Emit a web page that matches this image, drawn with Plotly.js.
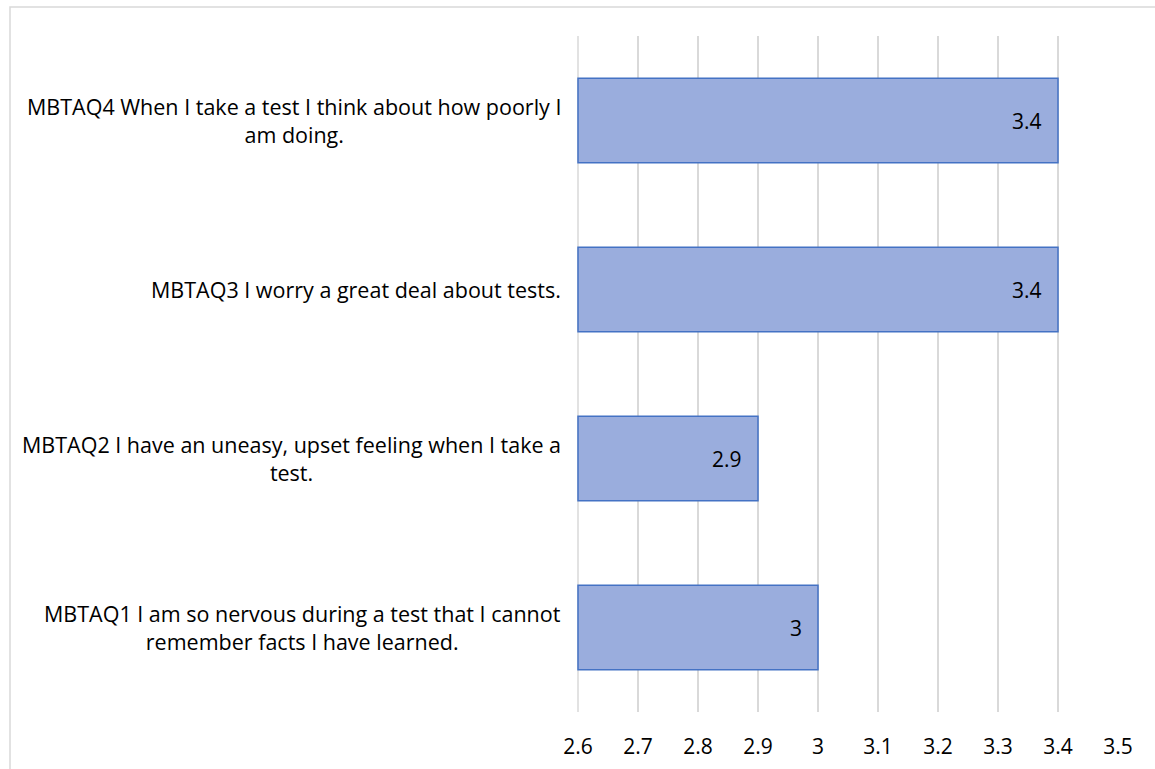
<!DOCTYPE html>
<html>
<head>
<meta charset="utf-8">
<script src="https://cdn.plot.ly/plotly-3.0.1.min.js"></script>
<style>
html,body{margin:0;padding:0;background:#fff;}
#chart{width:1155px;height:769px;}
</style>
</head>
<body>
<div id="chart"></div>
<script>
const categories = [
  "MBTAQ1 I am so nervous during a test that I cannot<br>remember facts I have learned.",
  "MBTAQ2 I have an uneasy, upset feeling when I take a<br>test.",
  "MBTAQ3 I worry a great deal about tests.",
  "MBTAQ4 When I take a test I think about how poorly I<br>am doing."
];
const values = [3, 2.9, 3.4, 3.4];
const valueLabels = ["3", "2.9", "3.4", "3.4"];
const axisMin = 2.6;
const axisMax = 3.5;
const xTickVals = [2.6, 2.7, 2.8, 2.9, 3.0, 3.1, 3.2, 3.3, 3.4, 3.5];
const xTickText = ["2.6", "2.7", "2.8", "2.9", "3", "3.1", "3.2", "3.3", "3.4", "3.5"];

const W = 1155, H = 769;
const L = 577, R = 1155 - 1119, T = 36, B = 769 - 712;
const pw = W - L - R, ph = H - T - B;
const px2x = p => (p - L) / pw;
const py2y = p => (H - B - p) / ph;

const FONT = "Open Sans, sans-serif";
const FS = 21;

const annotations = [];
categories.forEach((c, i) => {
  annotations.push({
    xref: "paper", yref: "y", x: px2x(563), y: c,
    text: c, showarrow: false, xanchor: "right", yanchor: "middle", align: "center",
    font: {family: FONT, size: 21.5, color: "#000"}
  });
  annotations.push({
    xref: "x", yref: "y", x: values[i], y: c,
    text: valueLabels[i], showarrow: false, xanchor: "right", yanchor: "middle",
    xshift: -14,
    font: {family: FONT, size: FS, color: "#000"}
  });
});

const trace = {
  type: "bar", orientation: "h",
  y: categories, x: values.map(v => v - axisMin),
  base: axisMin,
  marker: {color: "#9aaddd", line: {color: "#4472c4", width: 1.5}},
  hoverinfo: "none"
};

const pad = (axisMax - axisMin) / 540;
const layout = {
  width: W, height: H,
  margin: {l: L, r: R, t: T, b: B, pad: 0},
  paper_bgcolor: "#fff", plot_bgcolor: "#fff",
  showlegend: false,
  bargap: 0.5,
  xaxis: {
    range: [axisMin - pad, axisMax + pad], tickvals: xTickVals, ticktext: xTickText,
    showgrid: true, gridcolor: "#d9d9d9", gridwidth: 1.5,
    zeroline: false, showline: false, ticks: "",
    ticklabelstandoff: 20,
    tickfont: {family: FONT, size: FS, color: "#000"}
  },
  yaxis: {
    type: "category", categoryorder: "array", categoryarray: categories,
    showticklabels: false, showgrid: false, zeroline: false, showline: false, ticks: ""
  },
  annotations: annotations,
  shapes: [
    {
      type: "rect", xref: "paper", yref: "paper",
      x0: px2x(10), x1: px2x(1175), y0: py2y(800), y1: py2y(7),
      line: {color: "#d9d9d9", width: 1.5}, fillcolor: "rgba(0,0,0,0)", layer: "below"
    },
    {
      type: "line", xref: "x", yref: "paper",
      x0: axisMin, x1: axisMin, y0: 0, y1: 1,
      line: {color: "#d9d9d9", width: 1.5}, layer: "below"
    }
  ]
};

Plotly.newPlot("chart", [trace], layout, {displayModeBar: false, staticPlot: true});
</script>
</body>
</html>
